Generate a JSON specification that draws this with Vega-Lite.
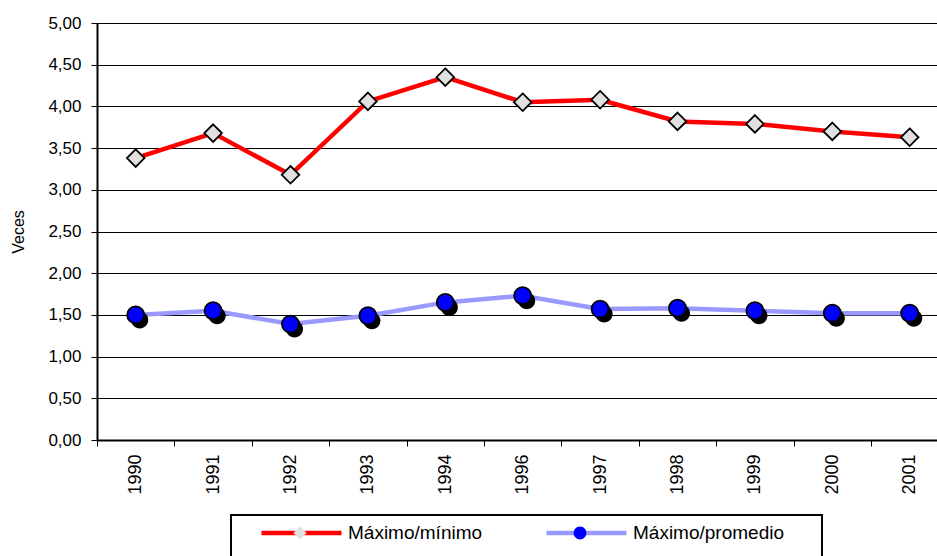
{
  "$schema": "https://vega.github.io/schema/vega-lite/v6.json",
  "width": 840,
  "height": 417,
  "autosize": {"type": "none"},
  "padding": {"left": 97, "top": 23, "right": 0, "bottom": 116},
  "background": "white",
  "config": {"view": {"stroke": null}, "font": "Liberation Sans"},
  "data": {
    "values": [
      {"year": "1990", "series": "Máximo/mínimo", "value": 3.38},
      {"year": "1991", "series": "Máximo/mínimo", "value": 3.68},
      {"year": "1992", "series": "Máximo/mínimo", "value": 3.18},
      {"year": "1993", "series": "Máximo/mínimo", "value": 4.06},
      {"year": "1994", "series": "Máximo/mínimo", "value": 4.35},
      {"year": "1996", "series": "Máximo/mínimo", "value": 4.05},
      {"year": "1997", "series": "Máximo/mínimo", "value": 4.08},
      {"year": "1998", "series": "Máximo/mínimo", "value": 3.82},
      {"year": "1999", "series": "Máximo/mínimo", "value": 3.79},
      {"year": "2000", "series": "Máximo/mínimo", "value": 3.70},
      {"year": "2001", "series": "Máximo/mínimo", "value": 3.63},
      {"year": "1990", "series": "Máximo/promedio", "value": 1.50},
      {"year": "1991", "series": "Máximo/promedio", "value": 1.55},
      {"year": "1992", "series": "Máximo/promedio", "value": 1.39},
      {"year": "1993", "series": "Máximo/promedio", "value": 1.49},
      {"year": "1994", "series": "Máximo/promedio", "value": 1.65},
      {"year": "1996", "series": "Máximo/promedio", "value": 1.73},
      {"year": "1997", "series": "Máximo/promedio", "value": 1.57},
      {"year": "1998", "series": "Máximo/promedio", "value": 1.58},
      {"year": "1999", "series": "Máximo/promedio", "value": 1.55},
      {"year": "2000", "series": "Máximo/promedio", "value": 1.52},
      {"year": "2001", "series": "Máximo/promedio", "value": 1.52}
    ]
  },
  "encoding": {
    "x": {
      "field": "year",
      "type": "ordinal",
      "scale": {"type": "band", "paddingInner": 0, "paddingOuter": 0, "range": [0, 851.4]},
      "axis": {
        "title": null,
        "tickBand": "extent",
        "domainColor": "black",
        "domainWidth": 2,
        "tickColor": "black",
        "tickSize": 6,
        "tickWidth": 1,
        "labelAngle": -90,
        "labelAlign": "right",
        "labelBaseline": "middle",
        "labelPadding": 8,
        "labelFontSize": 18,
        "labelColor": "black",
        "grid": false
      }
    },
    "y": {
      "field": "value",
      "type": "quantitative",
      "scale": {"domain": [0, 5], "nice": false},
      "axis": {
        "title": "Veces",
        "titleFontSize": 16,
        "titleFontWeight": "normal",
        "titleColor": "black",
        "titleX": -79,
        "titleAlign": "center",
        "titleBaseline": "middle",
        "values": [0, 0.5, 1, 1.5, 2, 2.5, 3, 3.5, 4, 4.5, 5],
        "labelExpr": "replace(format(datum.value, '.2f'), '.', ',')",
        "labelFontSize": 17,
        "labelColor": "black",
        "labelPadding": 10,
        "tickSize": 6,
        "tickColor": "black",
        "domainColor": "black",
        "domainWidth": 2,
        "grid": true,
        "gridColor": "black",
        "gridWidth": 1,
        "gridOpacity": 1
      }
    }
  },
  "layer": [
    {
      "mark": {"type": "line", "strokeWidth": 4.5},
      "encoding": {
        "stroke": {
          "field": "series",
          "type": "nominal",
          "scale": {"domain": ["Máximo/mínimo", "Máximo/promedio"], "range": ["#ff0000", "#9999ff"]},
          "legend": {
            "orient": "none",
            "legendX": 134,
            "legendY": 492,
            "direction": "horizontal",
            "title": " ",
            "titleOrient": "right",
            "titleFontSize": 60,
            "titlePadding": 30,
            "padding": 8,
            "strokeColor": "black",
            "fillColor": "white",
            "symbolType": "stroke",
            "symbolSize": 6400,
            "symbolStrokeWidth": 4.5,
            "clipHeight": 20,
            "symbolOffset": 20,
            "labelOffset": 4,
            "columnPadding": 41,
            "labelFontSize": 19,
            "labelFont": "Liberation Sans",
            "labelColor": "black",
            "labelLimit": 400,
            "zindex": 1,
            "encode": {"legend": {"update": {"strokeWidth": {"value": 2}}}}
          }
        }
      }
    },
    {
      "transform": [{"filter": "datum.series === 'Máximo/promedio'"}],
      "mark": {"type": "point", "shape": "M-0.16,0A0.16,0.16 0 1,0 0.16,0A0.16,0.16 0 1,0 -0.16,0Z", "filled": true, "color": "black", "size": 11364, "opacity": 1, "xOffset": 4, "yOffset": 5}
    },
    {
      "mark": {"type": "point", "filled": true, "size": 11364, "strokeWidth": 1.8, "opacity": 1},
      "encoding": {
        "stroke": {"value": "black"},
        "fill": {
          "field": "series",
          "type": "nominal",
          "scale": {"domain": ["Máximo/promedio", "Máximo/mínimo"], "range": ["#0000ff", "#e0e0e0"]},
          "legend": {
            "orient": "none",
            "legendX": 134,
            "legendY": 492,
            "values": ["Máximo/mínimo", "Máximo/promedio"],
            "direction": "horizontal",
            "title": " ",
            "titleOrient": "right",
            "titleFontSize": 60,
            "titlePadding": 30,
            "padding": 8,
            "symbolSize": 6400,
            "symbolStrokeWidth": 1.5,
            "symbolStrokeColor": "black",
            "clipHeight": 20,
            "symbolOffset": 20,
            "labelOffset": 4,
            "columnPadding": 174,
            "labelExpr": "''",
            "labelFontSize": 19,
            "labelLimit": 400,
            "zindex": 2,
            "encode": {"symbols": {"update": {"stroke": {"value": "black"}, "strokeWidth": {"value": 1.5}}}}
          }
        },
        "shape": {
          "field": "series",
          "type": "nominal",
          "scale": {"domain": ["Máximo/promedio", "Máximo/mínimo"], "range": ["M-0.16,0A0.16,0.16 0 1,0 0.16,0A0.16,0.16 0 1,0 -0.16,0Z", "M0,-0.165L0.165,0L0,0.165L-0.165,0Z"]},
          "legend": {
            "orient": "none",
            "legendX": 134,
            "legendY": 492,
            "values": ["Máximo/mínimo", "Máximo/promedio"],
            "direction": "horizontal",
            "title": " ",
            "titleOrient": "right",
            "titleFontSize": 60,
            "titlePadding": 30,
            "padding": 8,
            "symbolSize": 6400,
            "symbolStrokeWidth": 1.5,
            "symbolStrokeColor": "black",
            "clipHeight": 20,
            "symbolOffset": 20,
            "labelOffset": 4,
            "columnPadding": 174,
            "labelExpr": "''",
            "labelFontSize": 19,
            "labelLimit": 400,
            "zindex": 2,
            "encode": {"symbols": {"update": {"stroke": {"value": "black"}, "strokeWidth": {"value": 1.5}}}}
          }
        }
      }
    }
  ]
}
